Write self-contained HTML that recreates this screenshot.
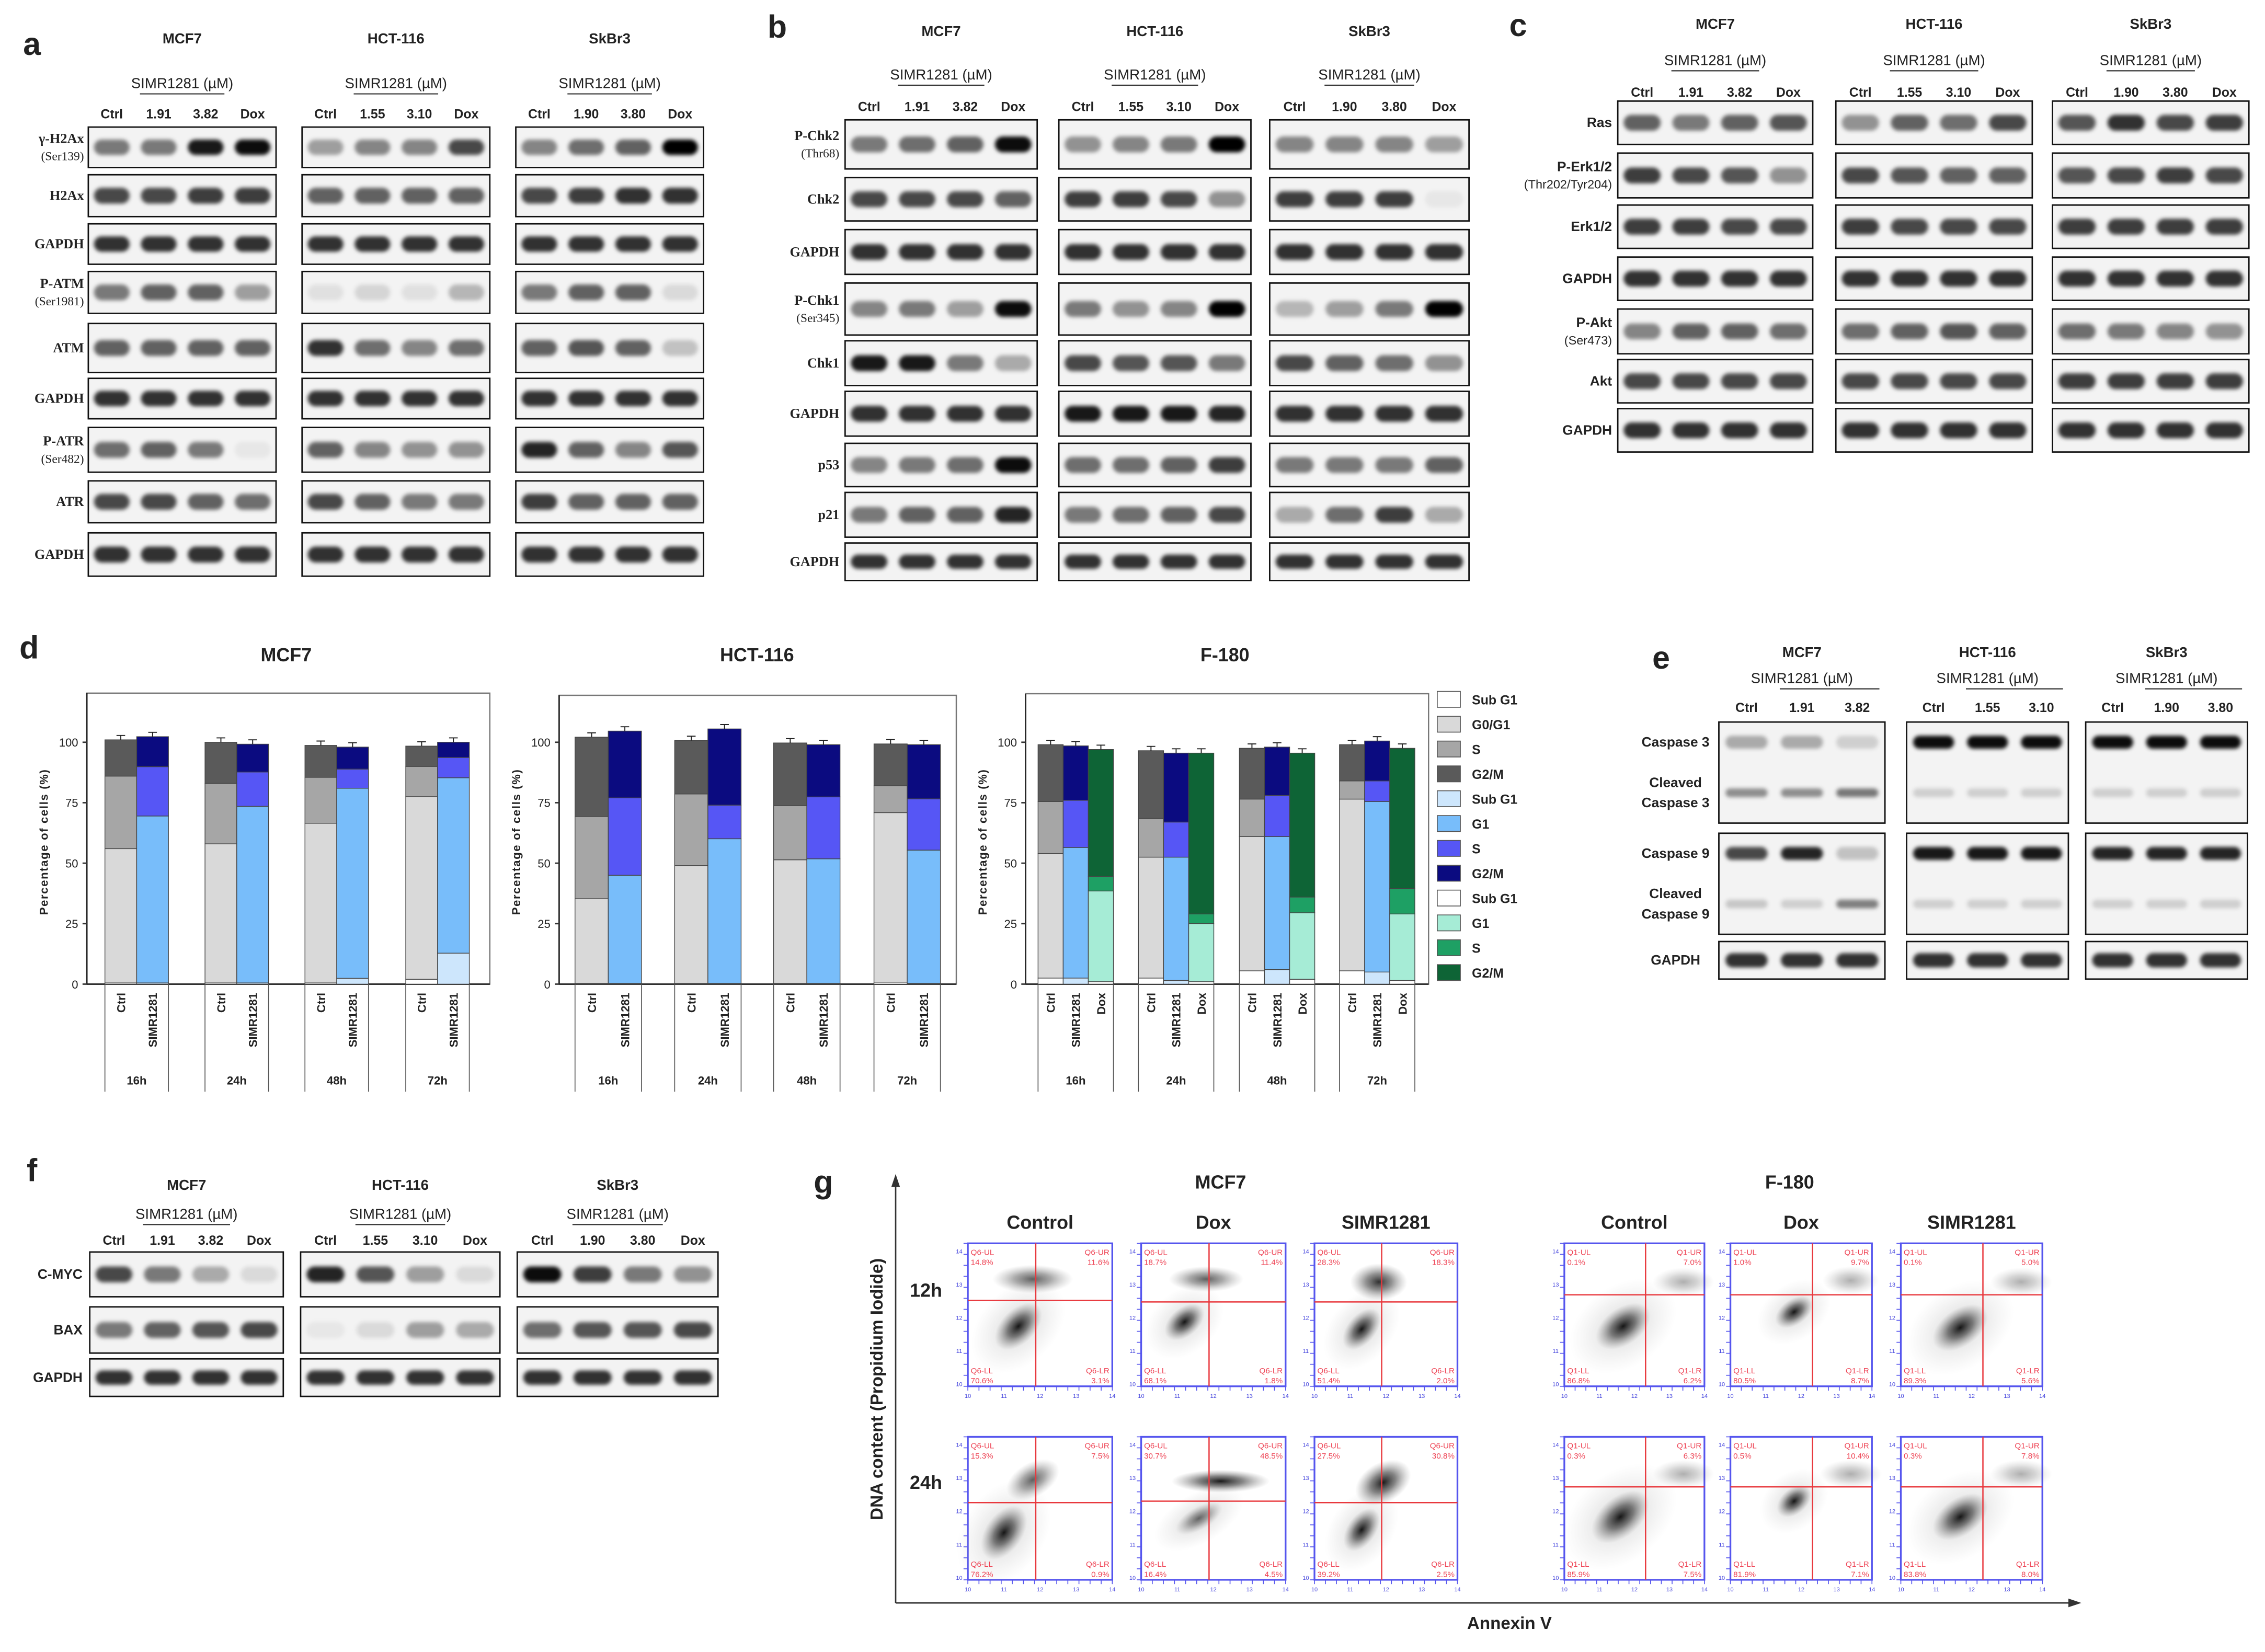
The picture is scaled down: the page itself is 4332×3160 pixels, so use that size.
<!DOCTYPE html>
<html><head><meta charset="utf-8"><style>
html,body{margin:0;padding:0;background:#fff;}
svg{display:block;}
text{font-family:"Liberation Sans",sans-serif;fill:#222;}
.ser{font-family:"Liberation Serif",serif;}
</style></head><body>
<svg id="fig" xmlns="http://www.w3.org/2000/svg" width="4332" height="3160" viewBox="0 0 1568 1144">
<defs>
<filter id="bl" x="-30%" y="-80%" width="160%" height="260%"><feGaussianBlur stdDeviation="1.3"/></filter>
<radialGradient id="cloud"><stop offset="0" stop-color="#000" stop-opacity="0.9"/><stop offset="0.45" stop-color="#222" stop-opacity="0.55"/><stop offset="1" stop-color="#777" stop-opacity="0"/></radialGradient>
<radialGradient id="haze"><stop offset="0" stop-color="#888" stop-opacity="0.35"/><stop offset="1" stop-color="#aaa" stop-opacity="0"/></radialGradient>
</defs>
<g id="root"></g>
</svg>
<script>
const NS='http://www.w3.org/2000/svg';
const root=document.getElementById('root');
function el(tag,attrs,parent,txt){const e=document.createElementNS(NS,tag);for(const k in attrs)e.setAttribute(k,attrs[k]);if(txt!==undefined)e.textContent=txt;(parent||root).appendChild(e);return e;}
function txt(x,y,s,size,opts,name){opts=opts||{};const t=el('text',Object.assign({x:x,y:y,'font-size':size,'text-anchor':opts.a||'middle','font-weight':opts.w||'bold'},opts.extra||{}),opts.p,s);if(opts.cls)t.setAttribute('class',opts.cls);


return t;}

/* ---------- Western blot data ---------- */
const G=[0.8,0.8,0.8,0.8];
const aRows=[
 {l:['γ-H2Ax','(Ser139)'],y:88,h:28,v:[[.5,.5,.9,.95],[.35,.45,.45,.7],[.45,.55,.6,1]]},
 {l:['H2Ax'],y:121,h:29,v:[[.7,.7,.75,.75],[.6,.6,.6,.6],[.7,.75,.8,.8]]},
 {l:['GAPDH'],y:155,h:28,v:[G,G,G]},
 {l:['P-ATM','(Ser1981)'],y:188,h:29,v:[[.5,.6,.6,.35],[.08,.12,.08,.25],[.5,.6,.6,.1]]},
 {l:['ATM'],y:224,h:34,v:[[.6,.6,.6,.6],[.8,.55,.45,.55],[.6,.65,.6,.2]]},
 {l:['GAPDH'],y:262,h:28,v:[G,G,G]},
 {l:['P-ATR','(Ser482)'],y:296,h:31,v:[[.55,.6,.5,.05],[.6,.45,.4,.4],[.85,.6,.45,.65]]},
 {l:['ATR'],y:333,h:29,v:[[.7,.7,.6,.55],[.7,.6,.5,.5],[.75,.6,.6,.6]]},
 {l:['GAPDH'],y:369,h:30,v:[G,G,G]}];
const bRows=[
 {l:['P-Chk2','(Thr68)'],y:83,h:34,v:[[.5,.55,.6,.95],[.4,.45,.5,1],[.45,.45,.45,.35]]},
 {l:['Chk2'],y:123,h:30,v:[[.7,.7,.7,.6],[.75,.75,.7,.4],[.75,.75,.75,.05]]},
 {l:['GAPDH'],y:159,h:31,v:[G,G,G]},
 {l:['P-Chk1','(Ser345)'],y:196,h:36,v:[[.45,.5,.35,.95],[.5,.4,.45,1],[.25,.35,.5,1]]},
 {l:['Chk1'],y:236,h:31,v:[[.9,.9,.5,.3],[.7,.65,.65,.5],[.7,.6,.55,.4]]},
 {l:['GAPDH'],y:271,h:31,v:[G,[.9,.9,.9,.85],G]},
 {l:['p53'],y:307,h:30,v:[[.45,.5,.55,.95],[.55,.55,.6,.75],[.5,.5,.5,.6]]},
 {l:['p21'],y:341,h:31,v:[[.5,.6,.6,.85],[.5,.55,.6,.7],[.3,.55,.75,.3]]},
 {l:['GAPDH'],y:376,h:26,v:[G,G,G]}];
const cRows=[
 {l:['Ras'],y:70,h:30,v:[[.6,.5,.6,.65],[.4,.6,.55,.7],[.65,.8,.7,.75]]},
 {l:['P-Erk1/2','(Thr202/Tyr204)'],y:106,h:31,v:[[.75,.7,.65,.4],[.7,.65,.6,.6],[.65,.7,.75,.7]]},
 {l:['Erk1/2'],y:142,h:30,v:[[.75,.75,.7,.7],[.75,.7,.7,.7],[.75,.75,.75,.75]]},
 {l:['GAPDH'],y:178,h:30,v:[G,G,G]},
 {l:['P-Akt','(Ser473)'],y:214,h:31,v:[[.45,.6,.6,.55],[.55,.6,.65,.6],[.55,.5,.45,.4]]},
 {l:['Akt'],y:249,h:30,v:[[.7,.7,.7,.7],[.7,.7,.7,.7],[.75,.75,.75,.75]]},
 {l:['GAPDH'],y:283,h:30,v:[G,G,G]}];
const eRows=[
 {l:['Caspase 3','','Cleaved','Caspase 3'],y:500,h:70,v:[[.3,.3,.15],[.95,.95,.95],[.95,.95,.95]]},
 {l:['Caspase 9','','Cleaved','Caspase 9'],y:577,h:70,v:[[.7,.85,.2],[.9,.9,.9],[.85,.85,.85]]},
 {l:['GAPDH'],y:652,h:26,v:[[.8,.8,.8],[.8,.8,.8],[.8,.8,.8]]}];
const fRows=[
 {l:['C-MYC'],y:867,h:31,v:[[.7,.5,.3,.1],[.85,.65,.35,.1],[.95,.75,.5,.4]]},
 {l:['BAX'],y:905,h:32,v:[[.5,.6,.65,.7],[.05,.1,.35,.3],[.55,.65,.65,.7]]},
 {l:['GAPDH'],y:941,h:26,v:[G,G,G]}];

const cellLines=['MCF7','HCT-116','SkBr3'];
const doses=[['Ctrl','1.91','3.82','Dox'],['Ctrl','1.55','3.10','Dox'],['Ctrl','1.90','3.80','Dox']];

function blotPanel(o){
 const g=el('g',{});
 
 
 txt(o.letterX,o.letterY,o.letter,22,{p:g},'panel-letter-'+o.letter);
 o.cols.forEach((c,ci)=>{
  const n=o.rows[0].v[ci].length, lw=c.w/n;
  txt(c.x+c.w/2,o.ty,cellLines[ci],o.fs+1,{p:g},'cell-line-title');
  txt(c.x+c.w/2,o.sy,'SIMR1281 (µM)',o.fs+1,{p:g,w:'normal'},'dose-header');
  el('line',{x1:c.x+lw*1.1,x2:c.x+lw*2.9,y1:o.sy+4,y2:o.sy+4,stroke:'#333','stroke-width':0.8},g);
  for(let i=0;i<n;i++) txt(c.x+lw*(i+.5),o.ly,doses[ci][i],o.fs,{p:g,w:'bold'},'lane-label');
  o.rows.forEach((r,ri)=>{
   const box=el('rect',{x:c.x,y:r.y,width:c.w,height:r.h,fill:'#f3f3f3',stroke:'#111','stroke-width':1},g);
   
   
   r.v[ci].forEach((val,li)=>{
    const cx=c.x+lw*(li+.5);
    const mk=(cy,bh,op)=>{const b=el('rect',{x:cx-lw*0.38,y:cy-bh/2,width:lw*0.76,height:bh,rx:bh/2,fill:'#000','fill-opacity':op,filter:'url(#bl)'},g);
     
     };
    if(r.h>60){mk(r.y+14,9,val);mk(r.y+r.h*0.7,6,Math.max(0.15,(1-val)*0.6));}
    else mk(r.y+r.h/2,Math.min(11,r.h*0.38),val);
   });
  });
 });
 o.rows.forEach(r=>{
  const cy=r.y+r.h/2, L=r.l.length;
  r.l.forEach((s,k)=>{ if(!s)return;
   const yy=cy+(k-(L-1)/2)*(L>2?14:12)+3;
   txt(o.lx,yy,s,k>0&&L==2?o.fs-0.5:o.fs+0.5,{p:g,a:o.la||'end',w:(k>0&&L==2)?'normal':'bold',cls:o.serif?'ser':''},'row-label');
  });
 });
}
blotPanel({name:'panel-a',letter:'a',letterX:22,letterY:38,cols:[{x:61,w:130},{x:209,w:130},{x:357,w:130}],rows:aRows,ty:30,sy:61,ly:82,lx:58,fs:9,serif:true});
blotPanel({name:'panel-b',letter:'b',letterX:538,letterY:26,cols:[{x:585,w:133},{x:733,w:133},{x:879,w:138}],rows:bRows,ty:25,sy:55,ly:77,lx:581,fs:9,serif:true});
blotPanel({name:'panel-c',letter:'c',letterX:1051,letterY:25,cols:[{x:1120,w:135},{x:1271,w:136},{x:1421,w:136}],rows:cRows,ty:20,sy:45,ly:67,lx:1116,fs:9});
blotPanel({name:'panel-e',letter:'e',letterX:1150,letterY:463,cols:[{x:1190,w:115},{x:1320,w:112},{x:1444,w:112}],rows:eRows,ty:455,sy:473,ly:493,lx:1160,la:'middle',fs:9});
blotPanel({name:'panel-f',letter:'f',letterX:22,letterY:818,cols:[{x:62,w:134},{x:208,w:138},{x:358,w:139}],rows:fRows,ty:824,sy:844,ly:862,lx:57,fs:9});

/* ---------- Panel d: cell cycle stacked bars ---------- */
const times=['16h','24h','48h','72h'];
const mcfCats=['Ctrl','SIMR1281'];
const mcfSub=[0.5,0.5,0.5,0.5,0.5,2.4,2,12.8];
const mcfG1=[55.5,69,57.5,73,66,78.6,75.5,72.5];
const mcfS=[30,20.4,25,14.2,19,7.9,12.5,8.4];
const mcfG2=[15,12.4,17,11.5,13.2,9.1,8.4,6.3];
const hctCats=['Ctrl','SIMR1281'];
const hctSub=[0.3,0.3,0.3,0.3,0.3,0.3,0.8,0.3];
const hctG1=[35,44.7,48.7,59.8,51.1,51.5,70.1,55.1];
const hctS=[34,32,29.6,13.9,22.4,25.6,11.1,21.2];
const hctG2=[32.8,27.6,22.1,31.5,25.9,21.6,17.3,22.4];
const fCats=['Ctrl','SIMR1281','Dox'];
const fSub=[2.5,2.5,1,2.5,1.5,1,5.5,6,2,5.5,5,1.5];
const fG1=[51.5,54,37.5,50,51,24,55.5,55,27.5,71,70.5,27.5];
const fS=[21.5,19.5,6,16,14.5,4,15.5,17,6.5,7.5,8.5,10.5];
const fG2=[23.5,22.5,52.5,28,28.5,66.5,21,20,59.5,15,16.5,58];
const yTicks=[0,25,50,75,100];

const ctrlCol=['#ffffff','#d9d9d9','#a6a6a6','#5a5a5a'];
const simrCol=['#cde6fc','#78bdfa','#5656f5','#0b0b80'];
const doxCol=['#ffffff','#a6ecd6','#1ea064','#0e6436'];

function stackChart(o){
 const g=el('g',{});
 
 
 const y0=681.5,y100=514;const ys=v=>y0-(y0-y100)*v/100;
 const fr=el('rect',{x:o.x0,y:o.fy,width:o.x1-o.x0,height:y0-o.fy,fill:'none',stroke:'#777','stroke-width':0.9},g);
 
 
 el('line',{x1:o.x0,x2:o.x0,y1:o.fy,y2:y0,stroke:'#222','stroke-width':1},g);
 el('line',{x1:o.x0,x2:o.x1,y1:y0,y2:y0,stroke:'#222','stroke-width':1},g);
 txt(o.tx,458,o.title,13,{p:g},'chart-title');
 yTicks.forEach(t=>{el('line',{x1:o.x0-3,x2:o.x0,y1:ys(t),y2:ys(t),stroke:'#333'},g);txt(o.x0-6,ys(t)+3,String(t),8,{p:g,a:'end',w:'normal'},'y-tick-label');});
 txt(0,0,'Percentage of cells (%)',8,{p:g,extra:{transform:`translate(${o.x0-27},${583}) rotate(-90)`,'letter-spacing':'0.6'}},'y-axis-title');
 const nc=o.cats.length;
 o.sub.forEach((_,i)=>{
  const gi=Math.floor(i/nc),ci=i%nc;const cx=o.gx[gi]+ci*o.bw;
  const cols=[ctrlCol,simrCol,doxCol][ci];
  let acc=0;[o.sub[i],o.g1[i],o.s[i],o.g2[i]].forEach((v,k)=>{
   const r=el('rect',{x:cx-o.bw/2,y:ys(acc+v),width:o.bw,height:ys(acc)-ys(acc+v),fill:cols[k],stroke:'#444','stroke-width':0.5},g);
   
   
   acc+=v;});
  el('line',{x1:cx,x2:cx,y1:ys(acc),y2:ys(acc+1.8),stroke:'#222','stroke-width':0.7},g);
  el('line',{x1:cx-3,x2:cx+3,y1:ys(acc+1.8),y2:ys(acc+1.8),stroke:'#222','stroke-width':0.7},g);
  txt(0,0,o.cats[ci],8,{p:g,a:'end',extra:{transform:`translate(${cx+3},${y0+6}) rotate(-90)`}},'category-label');
 });
 times.forEach((t,gi)=>{const left=o.gx[gi]-o.bw/2,right=left+nc*o.bw;
  txt((left+right)/2,751,t,8,{p:g},'time-label');
  [left,right].forEach(sx=>el('line',{x1:sx,x2:sx,y1:y0,y2:756,stroke:'#555','stroke-width':0.6},g));
 });
}
stackChart({name:'chart-mcf7',title:'MCF7',tx:198,x0:60,x1:339,fy:480,cats:mcfCats,sub:mcfSub,g1:mcfG1,s:mcfS,g2:mcfG2,gx:[83.5,152.8,222,291.8],bw:22});
stackChart({name:'chart-hct116',title:'HCT-116',tx:524,x0:387,x1:662,fy:481.5,cats:hctCats,sub:hctSub,g1:hctG1,s:hctS,g2:hctG2,gx:[409.5,478.5,547,616.5],bw:23});
stackChart({name:'chart-f180',title:'F-180',tx:848,x0:710,x1:989,fy:480.4,cats:fCats,sub:fSub,g1:fG1,s:fS,g2:fG2,gx:[727.3,796.8,866.7,936],bw:17.4});
txt(20,456,'d',22,{},'panel-letter-d');

/* legend */
const legLabels=['Sub G1','G0/G1','S','G2/M','Sub G1','G1','S','G2/M','Sub G1','G1','S','G2/M'];
const legCols=ctrlCol.concat(simrCol,doxCol);
legLabels.forEach((s,i)=>{const y=484.3+i*17.2;
 const r=el('rect',{x:995,y:y-5.5,width:16,height:11,fill:legCols[i],stroke:'#555','stroke-width':0.6});
 
 
 txt(1019,y+3.5,s,9,{a:'start'},'legend-entry');});

/* ---------- Panel g: flow cytometry ---------- */
const gG=el('g',{});


txt(570,826,'g',22,{p:gG},'panel-letter-g');
txt(845,823,'MCF7',13,{p:gG},'group-title');txt(1239,823,'F-180',13,{p:gG},'group-title');
const colX=[670,790,910,1083,1198,1316],colW=[100,100,99,97,98,98];
const rowY=[861,995],plotH=99;
const colNames=['Control','Dox','SIMR1281','Control','Dox','SIMR1281'];
colNames.forEach((s,i)=>txt(colX[i]+colW[i]/2,851,s,13,{p:gG},'column-label'));
txt(641,898,'12h',13,{p:gG},'row-label');txt(641,1031,'24h',13,{p:gG},'row-label');
txt(0,0,'DNA content (Propidium Iodide)',12,{p:gG,extra:{transform:'translate(611,962) rotate(-90)'}},'y-axis-title');
el('line',{x1:620,x2:620,y1:815,y2:1110,stroke:'#333'},gG);
el('line',{x1:620,x2:1436,y1:1110,y2:1110,stroke:'#333'},gG);
el('path',{d:'M617,822 L620,813 L623,822 Z',fill:'#333'},gG);
el('path',{d:'M1432,1107 L1441,1110 L1432,1113 Z',fill:'#333'},gG);
txt(1045,1128,'Annexin V',12,{p:gG},'x-axis-title');
const cloudsMain=[[.35,.58,.2,.12,-45,1],[.3,.55,.16,.1,-40,1],[.33,.6,.17,.1,-50,1],[.42,.58,.22,.13,-35,1],[.45,.48,.15,.09,-35,1],[.42,.59,.22,.13,-35,1],
 [.25,.67,.21,.13,-55,1],[.4,.57,.18,.08,-30,.6],[.33,.65,.17,.1,-55,1],[.4,.56,.24,.14,-40,1],[.45,.45,.14,.09,-40,1],[.42,.56,.22,.13,-35,1]];
const cloudsUpper=[[.45,.25,.28,.1,0,.7],[.45,.25,.26,.09,0,.7],[.45,.27,.2,.13,0,.9],[.85,.27,.22,.1,0,.35],[.85,.26,.2,.1,0,.35],[.85,.27,.22,.1,0,.35],
 [.45,.3,.2,.12,-30,.7],[.55,.31,.34,.08,0,1],[.48,.32,.21,.14,-30,1],[.85,.26,.22,.1,0,.35],[.85,.26,.22,.1,0,.35],[.85,.26,.22,.1,0,.35]];
const quadX=[.47,.47,.47,.58,.58,.58],quadY=[[.4,.41,.41,.36,.36,.36],[.46,.45,.46,.35,.35,.35]];
const qPct=[[['14.8%','11.6%','70.6%','3.1%'],['18.7%','11.4%','68.1%','1.8%'],['28.3%','18.3%','51.4%','2.0%'],['0.1%','7.0%','86.8%','6.2%'],['1.0%','9.7%','80.5%','8.7%'],['0.1%','5.0%','89.3%','5.6%']],
 [['15.3%','7.5%','76.2%','0.9%'],['30.7%','48.5%','16.4%','4.5%'],['27.5%','30.8%','39.2%','2.5%'],['0.3%','6.3%','85.9%','7.5%'],['0.5%','10.4%','81.9%','7.1%'],['0.3%','7.8%','83.8%','8.0%']]];
let k=0;
rowY.forEach((ry,ri)=>colX.forEach((cx,ci)=>{
 const w=colW[ci],h=plotH;
 const p=el('g',{},gG);
 
 
 el('rect',{x:cx,y:ry,width:w,height:h,fill:'#fff',stroke:'#5555ee','stroke-width':1.2},p);
 for(let t=0;t<14;t++){el('line',{x1:cx-3,x2:cx,y1:ry+t*h/13,y2:ry+t*h/13,stroke:'#5555ee','stroke-width':0.6},p);
  el('line',{x1:cx+t*w/13,x2:cx+t*w/13,y1:ry+h,y2:ry+h+3,stroke:'#5555ee','stroke-width':0.6},p);}
 for(let t=0;t<5;t++){txt(cx-6,ry+h-t*h/4.3,'1'+t,4,{p:p,w:'normal',extra:{style:'fill:#4444dd'}},'y-tick');
  txt(cx+t*w/4,ry+h+8,'1'+t,4,{p:p,w:'normal',extra:{style:'fill:#4444dd'}},'x-tick');}
 const dr=(c,fill)=>{el('ellipse',{cx:cx+c[0]*w,cy:ry+c[1]*h,rx:c[2]*w,ry:c[3]*h,fill:fill,opacity:c[5],transform:`rotate(${c[4]} ${cx+c[0]*w} ${ry+c[1]*h})`},p);};
 const m=cloudsMain[k],u=cloudsUpper[k];
 dr([m[0],m[1],m[2]*1.9,m[3]*2.2,m[4],1],'url(#haze)');
 dr(u,'url(#cloud)');dr(m,'url(#cloud)');
 const qx=cx+w*quadX[ci],qy=ry+h*quadY[ri][ci];
 el('line',{x1:qx,x2:qx,y1:ry,y2:ry+h,stroke:'#e8383d','stroke-width':0.9},p);
 el('line',{x1:cx,x2:cx+w,y1:qy,y2:qy,stroke:'#e8383d','stroke-width':0.9},p);
 const q=ci<3?'Q6':'Q1',pc=qPct[ri][ci],red={style:'fill:#ee4455'};
 txt(cx+2,ry+8,q+'-UL',5.5,{p:p,a:'start',w:'normal',extra:red},'quadrant-label');
 txt(cx+2,ry+15,pc[0],5.5,{p:p,a:'start',w:'normal',extra:red},'quadrant-value');
 txt(cx+w-2,ry+8,q+'-UR',5.5,{p:p,a:'end',w:'normal',extra:red},'quadrant-label');
 txt(cx+w-2,ry+15,pc[1],5.5,{p:p,a:'end',w:'normal',extra:red},'quadrant-value');
 txt(cx+2,ry+h-9,q+'-LL',5.5,{p:p,a:'start',w:'normal',extra:red},'quadrant-label');
 txt(cx+2,ry+h-2,pc[2],5.5,{p:p,a:'start',w:'normal',extra:red},'quadrant-value');
 txt(cx+w-2,ry+h-9,q+'-LR',5.5,{p:p,a:'end',w:'normal',extra:red},'quadrant-label');
 txt(cx+w-2,ry+h-2,pc[3],5.5,{p:p,a:'end',w:'normal',extra:red},'quadrant-value');
 k++;
}));
</script>
</body></html>
